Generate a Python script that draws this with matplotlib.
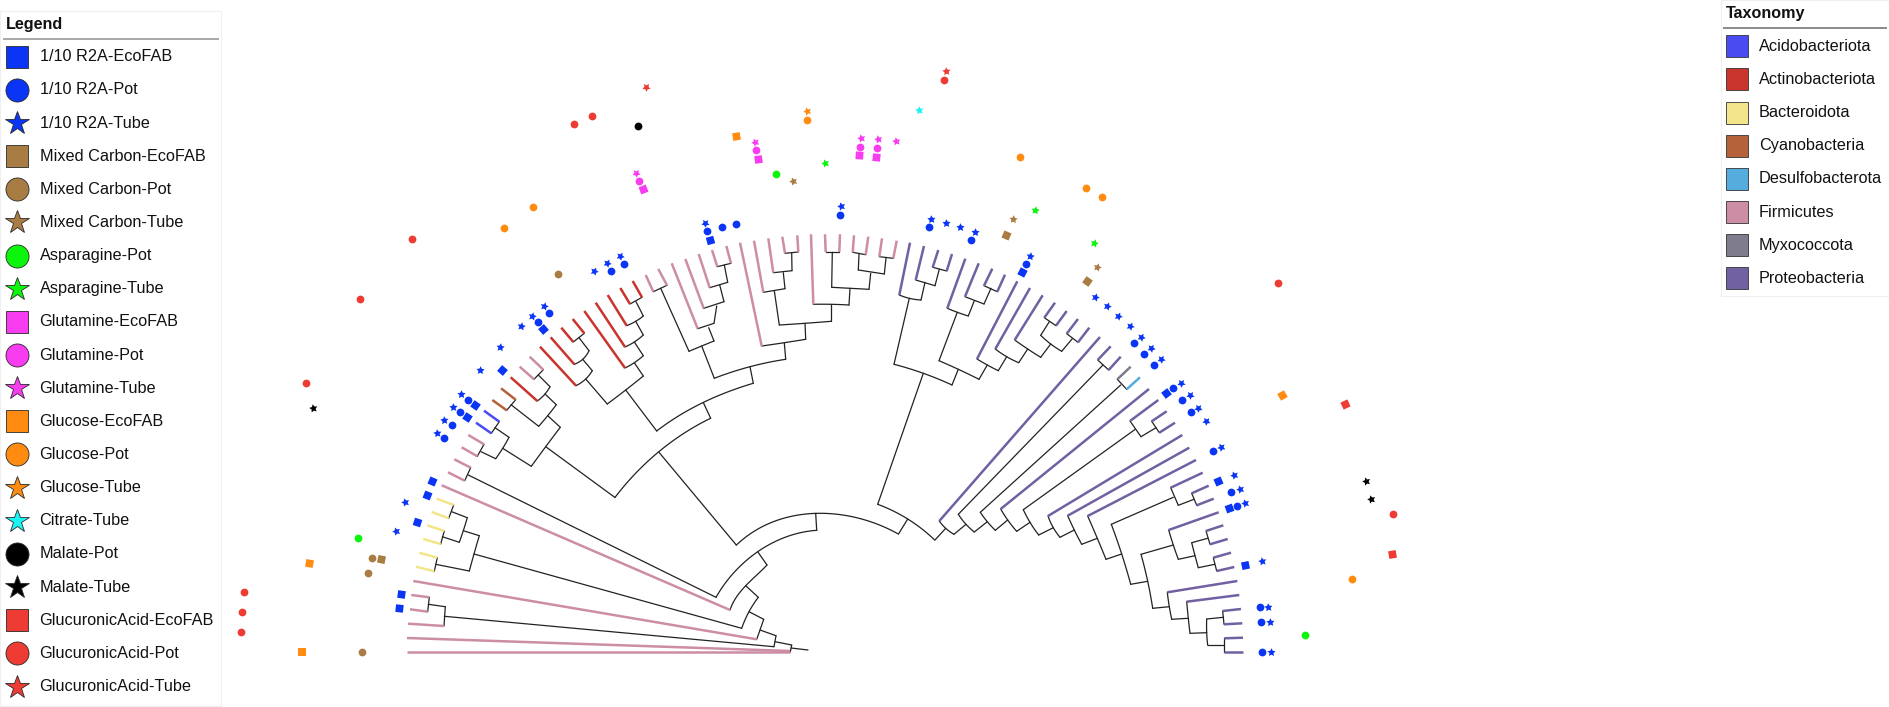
import math
import numpy as np
import matplotlib
matplotlib.use("Agg")
import matplotlib.pyplot as plt
from matplotlib.patches import Rectangle

plt.rcParams['font.family'] = ['Liberation Sans', 'DejaVu Sans']

# tree layout units (no axes in the chart, same scale as the picture)
WIDTH, HEIGHT = 1890, 707
CENTER = (825, 652)

# internal branches, each one a polyline
branches = [
    [(808, 650), (791, 648)], [(791.7, 645), (790.3, 652)], [(791.7, 645), (775, 641.7)],
    [(776, 635.7), (774, 646.7)], [(774, 646.7), (444.3, 616.3)],
    [(445.3, 606.7), (444, 626)], [(428.3, 604.3), (445.3, 606.7)], [(429.3, 597.3), (427.7, 611.7)],
    [(776, 635.7), (760, 630)], [(763.7, 619.3), (760, 630), (756.7, 639.3)],
    [(763.7, 619.3), (749, 611.7)], [(758.3, 597.3), (749, 611.7), (741.7, 628.3)],
    [(741.7, 628.3), (474, 554)], [(479.3, 535.7), (474, 554), (469.3, 571)],
    [(469.3, 571), (435.7, 564.3)], [(437.3, 557.7), (434.3, 571.3)],
    [(479.3, 535.7), (463.3, 530.7)], [(467.3, 517.7), (463.3, 530.7), (459.3, 542.3)],
    [(459.3, 542.3), (442.3, 536.7)], [(444.3, 531), (440.7, 544)],
    [(467.3, 517.7), (451.7, 511.7)], [(453.7, 505), (448.7, 518.3)],
    [(758.3, 597.3), (745.7, 585.7)],
    [(767, 565), (755, 576.7), (745.7, 585.7), (736.7, 596.7), (730, 610)],
    [(767, 565), (757.7, 551.7)],
    [(816.7, 530.3), (786.7, 536.7), (757.7, 551.7), (733.3, 573.3), (716, 597.3)],
    [(716, 597.3), (468.3, 475)], [(470.7, 467.7), (464.7, 480.7)],
    [(816.7, 530.3), (815.7, 513.3)],
    [(736.3, 545), (756.7, 530), (783.3, 518.3), (815.7, 513.3), (846.7, 515), (876.7, 525), (898.7, 533.7)],
    [(736.3, 545), (659, 452.3)],
    [(710.7, 418.3), (683.3, 433.3), (659, 452.3), (640, 468.3), (615, 497.5)],
    [(710.7, 418.3), (703.3, 402.5)],
    [(656.7, 431), (680, 415), (703.3, 402.5), (730, 391), (753.3, 383.3)],
    [(656.7, 431), (625.7, 390)], [(643.3, 376), (625.7, 390), (607.3, 404)],
    [(607.3, 404), (585.7, 379)], [(592.3, 370.7), (585.7, 379), (576, 385.7)],
    [(592.3, 370.7), (582.7, 359.3)], [(589, 350.7), (582.7, 359.3), (574.3, 364.3)],
    [(589, 350.7), (579, 337.7)], [(584.3, 333.3), (573.3, 342)],
    [(643.3, 376), (634.3, 362.7)], [(643.3, 355.7), (634.3, 362.7), (625, 368)],
    [(643.3, 355.7), (634.3, 342)], [(643.3, 335), (634.3, 342), (625, 347)],
    [(643.3, 335), (635.7, 321.3)], [(643.3, 316), (635.7, 321.3), (626.7, 325.7)],
    [(643.3, 316), (636, 301.7)], [(642, 297.3), (630, 304)],
    [(615, 497.5), (545.7, 446.7)], [(560.3, 427.3), (545.7, 446.7), (531.3, 466.3)],
    [(531.3, 466.3), (502.7, 448.3)], [(509, 437.3), (502.7, 448.3), (495.7, 458.7)],
    [(495.7, 458.7), (481, 451.7)], [(484, 444.3), (477.3, 456.3)],
    [(509, 437.3), (495, 427.7)], [(499.3, 421.7), (491.3, 433.3)],
    [(560.3, 427.3), (547.7, 415.7)], [(556.3, 404.7), (547.7, 415.7), (538.7, 426.3)],
    [(538.7, 426.3), (511, 404.7)], [(515.7, 399.7), (506.7, 410.3)],
    [(556.3, 404.7), (545, 394)], [(550, 386.7), (545, 394), (537.3, 401)],
    [(550, 386.7), (538.3, 375)], [(543.3, 369.7), (534, 379.3)],
    [(753.3, 383.3), (750, 366.7)], [(714.3, 378.3), (750, 366.7), (785.7, 359.3)],
    [(714.3, 378.3), (701.7, 346)], [(714, 341), (701.7, 346), (689, 351.3)],
    [(689, 351.3), (660.7, 288.3)], [(667, 285.3), (653.3, 291.7)],
    [(714, 341), (708.7, 327.7)], [(714, 323.3), (697.7, 328.7)],
    [(714, 323.3), (716.7, 306)], [(724, 301.7), (703.7, 308.3)],
    [(724, 301.7), (719.7, 285)], [(727.7, 282.3), (709.7, 287.7)],
    [(727.7, 282.3), (724.3, 265)], [(731, 263.3), (717.3, 266.7)],
    [(785.7, 359.3), (784.3, 342.7)], [(805.7, 339.3), (784.3, 342.7), (761.7, 346)],
    [(805.7, 339.3), (805, 323.3)], [(831, 321.3), (805, 323.3), (779.3, 325)],
    [(779.3, 325), (774.3, 290.7)], [(785, 288.7), (763.3, 292.3)],
    [(785, 288.7), (783.3, 272.7)], [(792, 270.7), (773.3, 272.7)],
    [(792, 270.7), (791.7, 253.3)], [(798.3, 252), (785, 253.3)],
    [(831, 321.3), (831, 304.3)], [(849, 305), (831, 304.3), (813.3, 304.3)],
    [(849, 305), (850, 288.3)], [(869, 289.3), (850, 288.3), (831.7, 287.3)],
    [(831.7, 287.3), (832.3, 252.3)], [(839.3, 252), (825.7, 252)],
    [(869, 289.3), (870.7, 273.3)], [(884.3, 274), (858.3, 270)],
    [(858.3, 270), (859, 254)], [(865.7, 254.7), (852.7, 252.3)],
    [(884.3, 274), (886, 258.3)], [(893.3, 258.3), (879.3, 256.7)],
    [(898.7, 533.7), (907.7, 519)], [(877.7, 504.3), (907.7, 519), (934.7, 540)],
    [(877.7, 504.3), (923.3, 373.3)], [(894, 364.3), (923.3, 373.3), (952, 385)],
    [(894, 364.3), (909.3, 298.3)], [(921, 300), (909.3, 298.3), (899.3, 295)],
    [(921, 300), (925, 282.3)], [(935, 285.7), (915.7, 280)],
    [(935, 285.7), (939.3, 269.3)], [(946.7, 271), (932.7, 267.3)],
    [(952, 385), (958.3, 369.3)], [(979, 379.3), (958.3, 369.3), (939, 360.7)],
    [(939, 360.7), (957.3, 312.3)], [(968.3, 316), (957.3, 312.3), (947.3, 308.3)],
    [(968.3, 316), (974.3, 300.7)], [(984, 304), (965, 296.7)],
    [(984, 304), (991, 288.3)], [(997.3, 291.7), (984, 285.7)],
    [(979, 379.3), (987.3, 365)], [(998.3, 370.7), (987.3, 365), (977, 359)],
    [(998.3, 370.7), (1006.7, 356.7)], [(1018.7, 362.7), (1006.7, 356.7), (995.3, 349)],
    [(1018.7, 362.7), (1027.7, 349)], [(1040.7, 357.3), (1027.7, 349), (1014.7, 340)],
    [(1040.7, 357.3), (1050.7, 344)], [(1061.7, 351.3), (1050.7, 344), (1040.7, 335.3)],
    [(1040.7, 335.3), (1049.3, 321.7)], [(1056, 325.7), (1044.3, 317.7)],
    [(1061.7, 351.3), (1072.3, 338.7)], [(1078, 342.3), (1066.7, 333.7)],
    [(935, 540), (945.7, 528.3)], [(954, 534.3), (945.7, 528.3), (939.3, 521)],
    [(954, 534.3), (966, 524.3)], [(974.3, 532), (966, 524.3), (958.3, 514.3)],
    [(958.3, 514.3), (1103, 365)], [(1108.7, 370), (1097.7, 360)],
    [(974.3, 532), (987.3, 521.7)], [(995.3, 530.3), (987.3, 521.7), (980.3, 512.3)],
    [(980.3, 512.3), (1120.7, 385)], [(1126.7, 389.3), (1117.3, 379.3)],
    [(995.3, 530.3), (1007.7, 520)], [(1016.7, 531.3), (1007.7, 520), (1000.7, 509)],
    [(1016.7, 531.3), (1030, 522.3)], [(1038.7, 535), (1030, 522.3), (1023.3, 509.7)],
    [(1023.3, 509.7), (1135.3, 429.3)], [(1141, 436.7), (1130, 421)],
    [(1141, 436.7), (1156, 427.7)], [(1159.3, 432.7), (1151.7, 421.3)],
    [(1038.7, 535), (1053.3, 527.7)], [(1060, 537.3), (1053.3, 527.7), (1048, 516)],
    [(1060, 537.3), (1074.3, 530)], [(1081.7, 544.3), (1074.3, 530), (1067.7, 515.7)],
    [(1081.7, 544.3), (1097.3, 538.3)], [(1106, 559.3), (1097.3, 538.3), (1087.7, 516)],
    [(1106, 559.3), (1121.7, 554)], [(1130.7, 584.3), (1121.7, 554), (1111.3, 524.3)],
    [(1111.3, 524.3), (1173.3, 497.3)], [(1178.3, 505.3), (1170.7, 487.7)],
    [(1178.3, 505.3), (1194, 499.3)], [(1196.7, 505.3), (1191.7, 493.3)],
    [(1130.7, 584.3), (1147.7, 581.3)], [(1152.7, 608.3), (1147.7, 581.3), (1141, 554.3)],
    [(1141, 554.3), (1173.3, 545)], [(1178.3, 559.3), (1173.3, 545), (1168.7, 530)],
    [(1178.3, 559.3), (1195, 555.7)], [(1198.3, 567.7), (1195, 555.7), (1191.7, 542.7)],
    [(1191.7, 542.7), (1207.7, 538.3)], [(1210, 544.3), (1206, 531)],
    [(1198.3, 567.7), (1214.7, 564.3)], [(1216.7, 571), (1213.3, 557.7)],
    [(1152.7, 608.3), (1169.3, 606.7)], [(1171.7, 619.3), (1169.3, 606.7), (1167.3, 592.3)],
    [(1171.7, 619.3), (1188.3, 618.3)], [(1190, 633.3), (1188.3, 618.3), (1186.7, 601.7)],
    [(1190, 633.3), (1206.7, 632.7)], [(1207.7, 645.3), (1206.7, 632.7), (1206.7, 619)],
    [(1206.7, 619), (1223.3, 617.3)], [(1224, 624.3), (1222.7, 611)],
    [(1207.7, 645.3), (1224.3, 645.3)], [(1224.3, 652), (1224.3, 638.3)],
]

# tip branches per phylum: (inner end, outer end)
acidobacteriota = [((499.3, 421.7), (484, 410.7)), ((491.3, 433.3), (476, 422.7))]
actinobacteriota = [
    ((537.3, 401), (510.7, 377.3)), ((576, 385.7), (540, 346.7)), ((574.3, 364.3), (550.7, 337.3)),
    ((584.3, 333.3), (572.7, 319)), ((573.3, 342), (561.3, 327.7)), ((625, 368), (584.3, 311)),
    ((625, 347), (595.7, 302.7)), ((626.7, 325.7), (607.7, 295)),
    ((642, 297.3), (632.7, 281)), ((630, 304), (620.3, 288)),
]
bacteroidota = [
    ((437.3, 557.7), (419.3, 552.7)), ((434.3, 571.3), (416, 566.7)), ((444.3, 531), (427.3, 525.3)),
    ((440.7, 544), (423.3, 539)), ((453.7, 505), (436.7, 498.7)), ((448.7, 518.3), (431.7, 512)),
]
cyanobacteria = [((515.7, 399.7), (501, 388.3)), ((506.7, 410.3), (492.3, 400))]
desulfobacterota = [((1126.7, 389.3), (1140, 377.3))]
firmicutes = [
    ((790, 652), (407, 652)), ((790, 651), (407, 638)), ((444, 626), (408, 623.7)),
    ((429.3, 597.3), (411.3, 595)), ((427.7, 611.7), (410, 609.3)), ((756.7, 639.3), (413.3, 581)),
    ((730, 610), (441.7, 485.3)), ((470.7, 467.7), (454.3, 459.3)), ((464.7, 480.7), (448, 472.3)),
    ((484, 444.3), (468.3, 435)), ((477.3, 456.3), (461.7, 447.3)),
    ((543.3, 369.7), (529.7, 356.7)), ((534, 379.3), (519.7, 366.7)),
    ((667, 285.3), (658.3, 269)), ((653.3, 291.7), (645.7, 275)), ((697.7, 328.7), (671.7, 263.3)),
    ((703.7, 308.3), (685.3, 259)), ((709.7, 287.7), (698.7, 254)),
    ((717.3, 266.7), (712, 250)), ((731, 263.3), (726.3, 246)),
    ((761.7, 346), (740, 242.7)), ((763.3, 292.3), (754, 240.7)), ((773.3, 272.7), (768.3, 238.3)),
    ((785, 253.3), (782.3, 236.7)), ((798.3, 252), (797.3, 235.3)), ((813.3, 304.3), (811, 234.3)),
    ((825.7, 252), (825, 234.3)), ((839.3, 252), (840, 234.3)),
    ((852.7, 252.3), (854, 235.3)), ((865.7, 254.7), (868.3, 236.7)),
    ((879.3, 256.7), (882, 238.3)), ((893.3, 258.3), (896.7, 240.7)),
]
myxococcota = [((1117.3, 379.3), (1130.7, 366.7))]
proteobacteria = [
    ((899.3, 295), (910, 242.7)), ((915.7, 280), (924, 246)), ((932.7, 267.3), (938.3, 250)),
    ((946.7, 271), (952, 254)), ((947.3, 308.3), (965.3, 258.7)), ((965, 296.7), (978.7, 263.3)),
    ((984, 285.7), (992.3, 268.7)), ((997.3, 291.7), (1005, 274.7)), ((977, 359), (1017.3, 281.3)),
    ((995.3, 349), (1030, 288)), ((1014.7, 340), (1042.7, 295.3)),
    ((1044.3, 317.7), (1055, 302.7)), ((1056, 325.7), (1066.7, 311)),
    ((1066.7, 333.7), (1078, 319)), ((1078, 342.3), (1089.3, 327.7)),
    ((939.3, 521), (1100, 337)), ((1097.7, 360), (1110.7, 346.3)), ((1108.7, 370), (1120.7, 356.7)),
    ((1000.7, 509), (1149, 389)), ((1130, 421), (1158.3, 400)),
    ((1151.7, 421.3), (1166.7, 411.3)), ((1159.3, 432.7), (1175, 422.7)),
    ((1048, 516), (1182.3, 435)), ((1067.7, 515.7), (1189.3, 447.7)), ((1087.7, 516), (1196, 460)),
    ((1170.7, 487.7), (1202.7, 472.7)), ((1191.7, 493.3), (1208.7, 485.7)), ((1196.7, 505.3), (1213.7, 498.7)),
    ((1168.7, 530), (1218.7, 512.3)), ((1206, 531), (1223.3, 525.3)), ((1210, 544.3), (1227.7, 539)),
    ((1213.3, 557.7), (1231, 552.7)), ((1216.7, 571), (1234.3, 567)),
    ((1167.3, 592.3), (1237.3, 581)), ((1186.7, 601.7), (1239.3, 595)),
    ((1222.7, 611), (1241, 609)), ((1224, 624.3), (1242.3, 623.3)),
    ((1224.3, 638.3), (1243, 637.7)), ((1224.3, 652), (1243.3, 652)),
]

taxonomy_names = ["Acidobacteriota", "Actinobacteriota", "Bacteroidota", "Cyanobacteria",
                  "Desulfobacterota", "Firmicutes", "Myxococcota", "Proteobacteria"]
taxonomy_tips = [acidobacteriota, actinobacteriota, bacteroidota, cyanobacteria,
                 desulfobacterota, firmicutes, myxococcota, proteobacteria]
taxonomy_colors = ["#4B4BF2", "#C9342C", "#F3E68A", "#B5623A", "#55ADDD", "#CC8DA5", "#7F7C8E", "#7160A2"]

# ring marks
r2a_ecofab = [(432.3, 481.3), (426.7, 494.7), (417, 522.3), (400.6, 593.7), (399, 608.3), (502.3, 370.3),
              (543.3, 329.3), (475, 405), (467, 417.3), (709.7, 239.7), (1022.3, 271.7), (1166, 393.3),
              (1218, 481.3), (1228.7, 508.3), (1244.7, 564.7)]
r2a_pot = [(468, 400), (459.7, 412.3), (452, 425), (444, 437.7), (538, 322.3), (549.3, 313), (611, 271),
           (624.3, 264), (707.3, 231.3), (721.7, 227.3), (736.3, 224), (840, 215), (928.7, 227.3),
           (971.3, 240), (1026, 263.7), (1134, 343), (1144.3, 353.7), (1154.3, 364.7), (1173.3, 388),
           (1182.3, 400), (1190.7, 412.3), (1213, 450.7), (1231.3, 491.7), (1237, 505.7),
           (1260, 607.3), (1261.3, 622), (1262, 652)]
r2a_tube = [(405.4, 502.3), (396, 531.3), (461.3, 394.3), (453, 407), (444.3, 420), (436.7, 433), (479.7, 370.3),
            (499.7, 347.3), (521.3, 326), (532.3, 315.7), (544.3, 306), (593.7, 271), (607, 263), (620.3, 256),
            (705.3, 222.7), (840.7, 206.3), (931, 219), (945.7, 222.7), (960, 227), (974.7, 232), (1030.3, 256),
            (1095, 297), (1106.7, 306.3), (1118.3, 316.3), (1129.7, 326.3), (1140.7, 337), (1151, 348),
            (1161.3, 359.3), (1180.7, 382.7), (1189.7, 395), (1198, 407.7), (1206, 420.7), (1221, 447.3),
            (1234, 475), (1239.7, 488.7), (1245, 502.7), (1261.7, 561.3), (1268.3, 606.7), (1270, 621.7),
            (1271, 652)]
mixed_ecofab = [(380.5, 559.3), (1006, 235), (1087, 280.7)]
mixed_pot = [(371.6, 557.7), (368.4, 573), (361.6, 652), (558.3, 273.7)]
mixed_tube = [(793.3, 181.3), (1013.3, 219.3), (1097.3, 266.7)]
asparagine_pot = [(358.4, 538.3), (776, 174), (1305, 635.3)]
asparagine_tube = [(825.3, 163), (1035.3, 210.3), (1093.7, 243)]
glutamine_ecofab = [(643, 189), (757.7, 158.7), (859.3, 155.3), (876.3, 157)]
glutamine_pot = [(639.3, 180.7), (756.3, 150.3), (859.7, 146.7), (877, 148)]
glutamine_tube = [(636.3, 172.7), (755.3, 141.7), (860.7, 138), (878.3, 139.3), (895.7, 141.3)]
glucose_ecofab = [(309, 562.7), (301.7, 652), (736.3, 135.7), (1281.7, 395)]
glucose_pot = [(533.3, 206.7), (503.7, 227.7), (807, 119.7), (1020.3, 156.7), (1086, 187.7), (1102, 197),
               (1352.3, 579.3)]
glucose_tube = [(807, 111)]
citrate_tube = [(919, 110)]
malate_pot = [(638, 125.7)]
malate_tube = [(313.4, 408), (1365.7, 480.7), (1371, 499)]
glucuronic_ecofab = [(1345, 404.3), (1392.3, 554)]
glucuronic_pot = [(306.2, 383), (243.5, 592), (241.9, 612), (241, 632), (411.8, 238.7), (359.6, 298.7),
                  (574, 124), (592.3, 116), (944.3, 79.7), (1278.3, 283), (1393, 513.7)]
glucuronic_tube = [(646.3, 86.7), (946, 71.3)]

legend_names = ["1/10 R2A-EcoFAB", "1/10 R2A-Pot", "1/10 R2A-Tube", "Mixed Carbon-EcoFAB", "Mixed Carbon-Pot",
                "Mixed Carbon-Tube", "Asparagine-Pot", "Asparagine-Tube", "Glutamine-EcoFAB", "Glutamine-Pot",
                "Glutamine-Tube", "Glucose-EcoFAB", "Glucose-Pot", "Glucose-Tube", "Citrate-Tube", "Malate-Pot",
                "Malate-Tube", "GlucuronicAcid-EcoFAB", "GlucuronicAcid-Pot", "GlucuronicAcid-Tube"]
legend_points = [r2a_ecofab, r2a_pot, r2a_tube, mixed_ecofab, mixed_pot, mixed_tube, asparagine_pot, asparagine_tube,
                 glutamine_ecofab, glutamine_pot, glutamine_tube, glucose_ecofab, glucose_pot, glucose_tube,
                 citrate_tube, malate_pot, malate_tube, glucuronic_ecofab, glucuronic_pot, glucuronic_tube]

BLUE, BROWN, GREEN, PINK = "#0A35F5", "#A97C44", "#0CF50C", "#F83CF0"
ORANGE, CYAN, BLACK, RED = "#FF8C10", "#1CF4F4", "#000000", "#EE3B33"
legend_colors = [BLUE, BLUE, BLUE, BROWN, BROWN, BROWN, GREEN, GREEN, PINK, PINK, PINK,
                 ORANGE, ORANGE, ORANGE, CYAN, BLACK, BLACK, RED, RED, RED]
legend_shapes = ["s", "o", "*", "s", "o", "*", "o", "*", "s", "o", "*", "s", "o", "*", "*", "o", "*", "s", "o", "*"]


def radial_angle(x, y):
    return math.degrees(math.atan2(CENTER[1] - y, x - CENTER[0]))


def draw_mark(ax, x, y, shape, color):
    # squares and stars follow the direction of the ring
    a = radial_angle(x, y)
    if shape == "s":
        ax.plot([x], [y], marker=(4, 0, a + 45), ms=7.8, mfc=color, mec=color, mew=0, zorder=3)
    elif shape == "*":
        ax.plot([x], [y], marker=(5, 1, a), ms=6.2, mfc=color, mec=color, mew=0, zorder=3)
    else:
        ax.plot([x], [y], marker="o", ms=5.6, mfc=color, mec=color, mew=0, zorder=3)


def draw_branch(ax, line):
    # arcs go smoothly through their read points
    xs = np.array([p[0] for p in line], dtype=float)
    ys = np.array([p[1] for p in line], dtype=float)
    if len(line) > 2:
        t = np.concatenate([[0], np.cumsum(np.hypot(np.diff(xs), np.diff(ys)))])
        deg = min(len(line) - 1, 3)
        tt = np.linspace(0, t[-1], 40)
        xs = np.polyval(np.polyfit(t, xs, deg), tt)
        ys = np.polyval(np.polyfit(t, ys, deg), tt)
    ax.plot(xs, ys, color="#222222", lw=0.9, solid_capstyle='round', zorder=1)


fig = plt.figure(figsize=(WIDTH / 100, HEIGHT / 100), dpi=100)
ax = fig.add_axes([0, 0, 1, 1])
ax.set_xlim(0, WIDTH)
ax.set_ylim(HEIGHT, 0)
ax.axis('off')

for line in branches:
    draw_branch(ax, line)

for tips, color in zip(taxonomy_tips, taxonomy_colors):
    for inner, outer in tips:
        ax.plot([inner[0], outer[0]], [inner[1], outer[1]], color=color, lw=1.8,
                solid_capstyle='butt', zorder=2)

for points, color, shape in zip(legend_points, legend_colors, legend_shapes):
    for x, y in points:
        draw_mark(ax, x, y, shape, color)

# left legend
ax.add_patch(Rectangle((0, 11), 221, 695, fc="white", ec="#F0F0F0", lw=0.8, zorder=4))
ax.text(6, 24, "Legend", fontsize=11.6, fontweight='bold', va='center', color="#111111", zorder=5)
ax.plot([4, 218], [39, 39], color="#A8A8A8", lw=1.4, zorder=5)
for i, (name, color, shape) in enumerate(zip(legend_names, legend_colors, legend_shapes)):
    y = 56.7 + i * 33.15
    size = {"s": 16.5, "o": 16.6, "*": 17.5}[shape]
    ax.plot([17], [y], marker=shape, ms=size, mfc=color, mec="#2A2A2A", mew=0.6, zorder=5)
    ax.text(39.5, y, name, fontsize=11.7, va='center', color="#111111", zorder=5)

# right legend
ax.add_patch(Rectangle((1721, 0), 169, 296, fc="white", ec="#F0F0F0", lw=0.8, zorder=4))
ax.text(1726, 13.5, "Taxonomy", fontsize=11.6, fontweight='bold', va='center', color="#111111", zorder=5)
ax.plot([1724, 1886], [28, 28], color="#8A8A8A", lw=1.4, zorder=5)
for i, (name, color) in enumerate(zip(taxonomy_names, taxonomy_colors)):
    y = 46.3 + i * 33.15
    ax.add_patch(Rectangle((1725.5, y - 11), 22.5, 22, fc=color, ec="#333333", lw=0.6, zorder=5))
    ax.text(1759, y, name, fontsize=11.7, va='center', color="#111111", zorder=5)

fig.savefig("out.png", dpi=100, facecolor="white")
